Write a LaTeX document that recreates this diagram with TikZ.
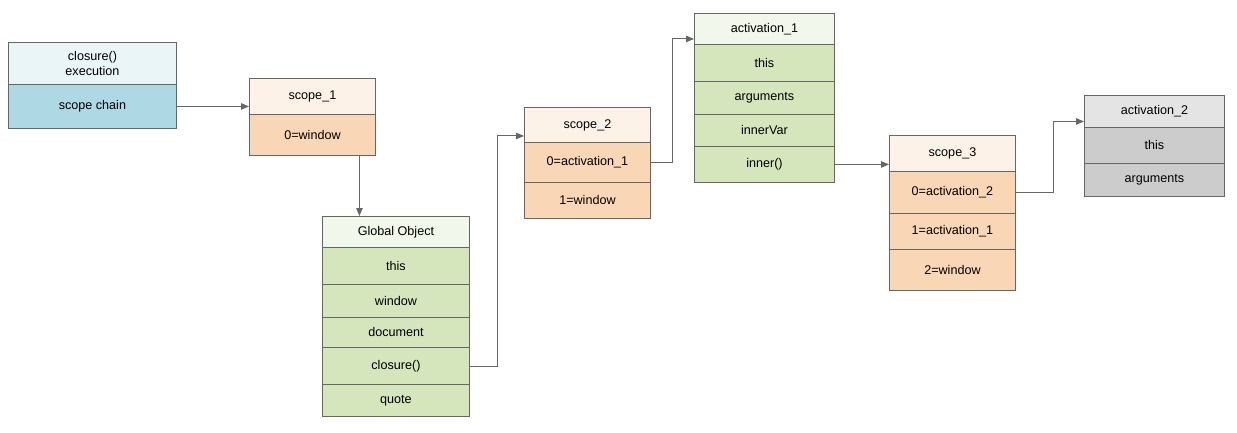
\documentclass[tikz,border=0pt]{standalone}
\usepackage{fontspec}
\setmainfont{Liberation Sans}
\usetikzlibrary{arrows.meta,calc}

\definecolor{lineGray}{RGB}{102,102,102}
\definecolor{cloHead}{RGB}{234,245,248}
\definecolor{cloRow}{RGB}{174,216,228}
\definecolor{scoHead}{RGB}{253,242,231}
\definecolor{scoRow}{RGB}{249,214,182}
\definecolor{actHead}{RGB}{242,247,235}
\definecolor{actRow}{RGB}{213,229,188}
\definecolor{grayHead}{RGB}{228,228,228}
\definecolor{grayRow}{RGB}{204,204,204}

\tikzset{
    cell/.style={draw=lineGray, line width=0.9pt, inner sep=0pt, align=center,
        anchor=north west, font=\fontsize{12.6}{14.5}\selectfont},
    link/.style={draw=lineGray, line width=0.9pt, -{Triangle[length=8pt, width=6.5pt]}}
}

% one cell of an object: name, left, top, width, height, colour, text
\newcommand{\cell}[7]{
    \node[cell, fill=#6, minimum width=#4pt, minimum height=#5pt] (#1) at (#2, #3) {#7};
}

\begin{document}
\begin{tikzpicture}[x=1pt, y=-1pt]

\useasboundingbox (0, 0) rectangle (1237, 433);

% closure() execution
\cell{clo}{8}{42}{168}{42}{cloHead}{closure()\\execution}
\cell{clo-chain}{8}{84}{168}{44}{cloRow}{scope chain}

% scope_1
\cell{s1}{249}{78}{126}{36}{scoHead}{scope\_1}
\cell{s1-0}{249}{114}{126}{41}{scoRow}{0=window}

% Global Object
\cell{glob}{322}{216}{147}{31}{actHead}{Global Object}
\cell{glob-this}{322}{247}{147}{37}{actRow}{this}
\cell{glob-win}{322}{284}{147}{33}{actRow}{window}
\cell{glob-doc}{322}{317}{147}{30}{actRow}{document}
\cell{glob-clo}{322}{347}{147}{37}{actRow}{closure()}
\cell{glob-quote}{322}{384}{147}{32}{actRow}{quote}

% scope_2
\cell{s2}{524}{107}{126}{35}{scoHead}{scope\_2}
\cell{s2-0}{524}{142}{126}{40}{scoRow}{0=activation\_1}
\cell{s2-1}{524}{182}{126}{36}{scoRow}{1=window}

% activation_1
\cell{act1}{694}{13}{140}{31}{actHead}{activation\_1}
\cell{act1-this}{694}{44}{140}{37}{actRow}{this}
\cell{act1-args}{694}{81}{140}{33}{actRow}{arguments}
\cell{act1-var}{694}{114}{140}{32}{actRow}{innerVar}
\cell{act1-inner}{694}{146}{140}{36}{actRow}{inner()}

% scope_3
\cell{s3}{889}{135}{126}{36}{scoHead}{scope\_3}
\cell{s3-0}{889}{171}{126}{42}{scoRow}{0=activation\_2}
\cell{s3-1}{889}{213}{126}{36}{scoRow}{1=activation\_1}
\cell{s3-2}{889}{249}{126}{41}{scoRow}{2=window}

% activation_2
\cell{act2}{1084}{95}{140}{32}{grayHead}{activation\_2}
\cell{act2-this}{1084}{127}{140}{36}{grayRow}{this}
\cell{act2-args}{1084}{163}{140}{33}{grayRow}{arguments}

% links
\draw[link] (clo-chain.east) -- (clo-chain.east -| s1.west);
\draw[link] ([xshift=47pt]s1-0.south) -- ([xshift=47pt]s1-0.south |- glob.north);
\draw[link] (glob-clo.east) -- ++(28, 0) |- ([yshift=-11pt]s2.west);
\draw[link] (s2-0.east) -- ++(22, 0) |- ([yshift=-10pt]act1.west);
\draw[link] (act1-inner.east) -- (act1-inner.east -| s3.west);
\draw[link] (s3-0.east) -- ++(38, 0) |- ([yshift=-10pt]act2.west);

\end{tikzpicture}
\end{document}
